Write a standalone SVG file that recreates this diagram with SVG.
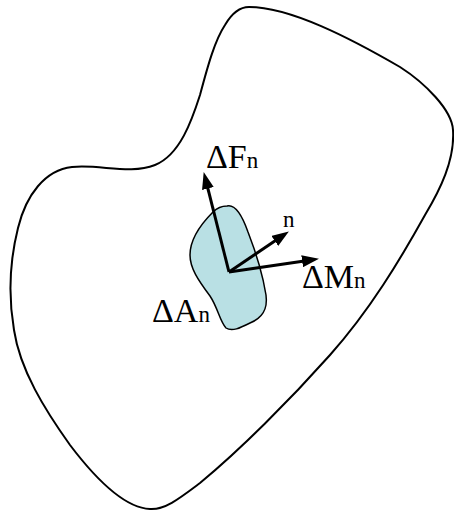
<svg xmlns="http://www.w3.org/2000/svg" width="454" height="511" viewBox="0 0 454 511">
<style>
.outline{fill:none;stroke:#000;stroke-width:2}
.patch{fill:#b9e0e4;stroke:#000;stroke-width:1.5}
.vec{stroke:#000;stroke-width:3;fill:none;marker-end:url(#ah)}
text{font-family:"Liberation Serif","Times New Roman",serif;font-size:34px;fill:#000}
.sub{font-size:23px}
</style>
<defs>
<marker id="ah" markerUnits="userSpaceOnUse" markerWidth="17" markerHeight="12" refX="4" refY="6" orient="auto" viewBox="0 0 17 12">
<path d="M0,0 L17,6 L0,12 Z" fill="#000"/>
</marker>
</defs>
<g id="body">
<path class="outline" d="M 249,7 C 290,7 350,38 400,67 C 425,83 452,110 453,130 C 455,160 440,190 425,215 C 400,260 370,310 330,355 C 290,400 240,450 200,483 C 180,498 165,510 150,509 C 125,508 95,478 70,445 C 45,410 20,370 14,330 C 8,295 10,260 18,228 C 26,195 45,170 72,167 C 100,164 130,175 155,165 C 180,155 192,120 200,95 C 208,65 215,40 225,25 C 232,13 240,7 249,7 Z"/>
</g>
<g id="patch">
<path class="patch" d="M 227,206 C 235,204 242,215 248,232 C 255,250 262,270 266,295 C 268,310 262,318 250,323 C 240,328 232,332 226,328 C 220,322 218,308 210,296 C 198,280 190,268 190,255 C 190,240 200,225 213,212 C 218,207 222,206 227,206 Z"/>
</g>
<g id="connectors">
<line class="vec" x1="229" y1="272" x2="206.9" y2="184.6"/>
<line class="vec" x1="229" y1="272" x2="278.1" y2="238.7"/>
<line class="vec" x1="229" y1="272" x2="306.1" y2="260.7"/>
</g>
<g id="label-F"><text x="206" y="168">ΔF<tspan class="sub">n</tspan></text></g>
<g id="label-n"><text x="283" y="227" class="sub">n</text></g>
<g id="label-M"><text x="302" y="288">ΔM<tspan class="sub">n</tspan></text></g>
<g id="label-A"><text x="152" y="322">ΔA<tspan class="sub">n</tspan></text></g>
</svg>
